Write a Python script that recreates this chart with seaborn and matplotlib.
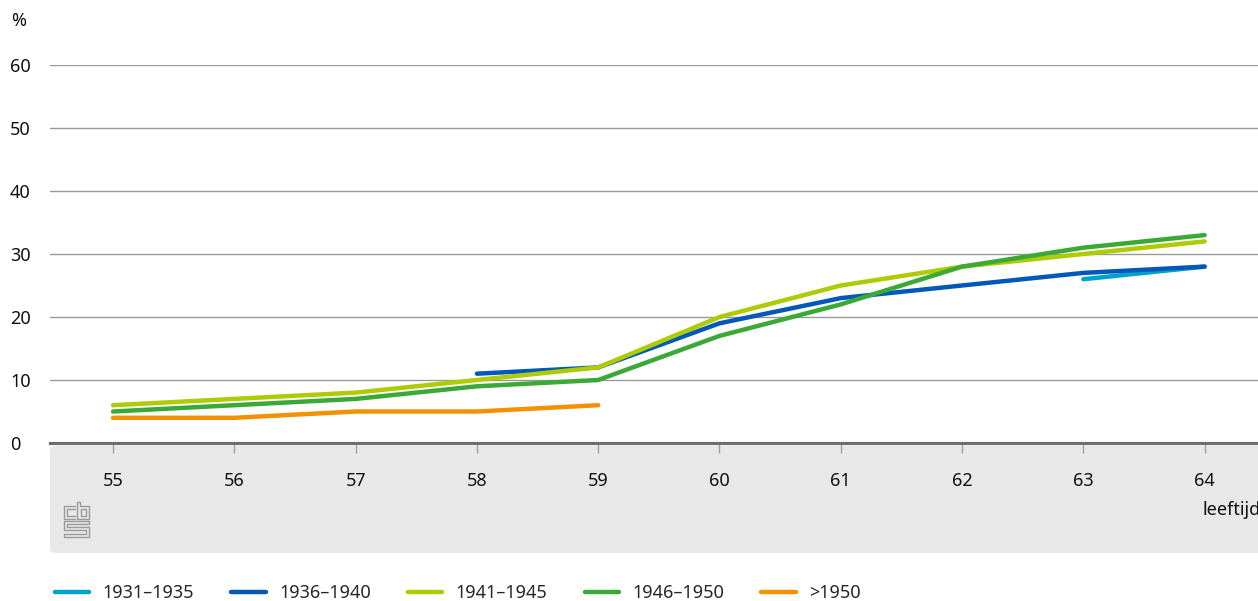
import numpy as np
import pandas as pd
import matplotlib.pyplot as plt
import seaborn as sns
from matplotlib.patches import FancyBboxPatch
from matplotlib.lines import Line2D

# data
ages = [55, 56, 57, 58, 59, 60, 61, 62, 63, 64]
cohorts = ['1931–1935', '1936–1940', '1941–1945', '1946–1950', '>1950']
c1931 = [None, None, None, None, None, None, None, None, 26, 28]
c1936 = [None, None, None, 11, 12, 19, 23, 25, 27, 28]
c1941 = [6, 7, 8, 10, 12, 20, 25, 28, 30, 32]
c1946 = [5, 6, 7, 9, 10, 17, 22, 28, 31, 33]
c1950 = [4, 4, 5, 5, 6, None, None, None, None, None]
colors = ['#00a1cd', '#0058b8', '#afcb05', '#3aa935', '#f39200']

rows = []
for name, vals in zip(cohorts, [c1931, c1936, c1941, c1946, c1950]):
    for a, v in zip(ages, vals):
        if v is not None:
            rows.append({'leeftijd': a, 'pct': v, 'cohort': name})
df = pd.DataFrame(rows)

sns.set_theme(style="white")
plt.rcParams['font.family'] = ['Noto Sans', 'DejaVu Sans']

W, H = 1258, 601
FS = 13
fig = plt.figure(figsize=(W / 100, H / 100), dpi=100)

def fx(x):
    return x / W

def fy(y):
    return 1 - y / H

# grey band below the axis
band = FancyBboxPatch((fx(50), fy(553)), fx(1258 + 20) - fx(50), fy(446) - fy(553),
                      boxstyle="round,pad=0,rounding_size=0.006",
                      transform=fig.transFigure, facecolor='#e8e8e8', edgecolor='none', zorder=-5)
fig.patches.append(band)

ax = fig.add_axes([fx(50), fy(443), fx(1258) - fx(50), fy(65) - fy(443)])
ax.set_facecolor('none')

sns.lineplot(data=df, x='leeftijd', y='pct', hue='cohort', hue_order=cohorts,
             palette=colors, linewidth=3.2, ax=ax, legend=False, estimator=None)

ax.set_xlim(54.48, 64.44)
ax.set_ylim(0, 60)
ax.set_xticks(ages)
ax.set_xticklabels([str(a) for a in ages])
ax.set_yticks([0, 10, 20, 30, 40, 50, 60])
ax.yaxis.grid(True, color='#9a9a9a', linewidth=1)
ax.set_axisbelow(True)
for s in ['top', 'right', 'left']:
    ax.spines[s].set_visible(False)
ax.spines['bottom'].set_color('#6e6e6e')
ax.spines['bottom'].set_linewidth(2.3)
ax.tick_params(axis='x', direction='out', length=7, width=1, color='#a0a0a0',
               pad=14, labelsize=FS, labelcolor='#111111', bottom=True)
ax.tick_params(axis='y', length=0, pad=28.8, labelsize=FS, labelcolor='#111111')
for t in ax.get_yticklabels():
    t.set_horizontalalignment('left')
ax.set_xlabel('')
ax.set_ylabel('')

fig.text(fx(11), fy(21), '%', fontsize=FS, color='#111111', va='center', ha='left')
fig.text(fx(1202), fy(510), 'leeftijd', fontsize=FS, color='#111111', va='center', ha='left')

# cbs logo (simplified)
logo = [
    [(75, 506), (64, 506), (64, 519), (75, 519)],
    [(75, 509), (67, 509), (67, 516), (75, 516)],
    [(77, 502), (77, 519), (89, 519), (89, 506), (80, 506), (80, 502), (77, 502)],
    [(81, 509), (86, 509), (86, 516), (81, 516), (81, 509)],
    [(89, 521), (64, 521), (64, 530), (86, 530), (86, 534), (64, 534), (64, 537), (89, 537),
     (89, 527), (67, 527), (67, 524), (89, 524), (89, 521)],
]
for pts in logo:
    xs = [fx(p[0]) for p in pts]
    ys = [fy(p[1]) for p in pts]
    fig.lines.append(Line2D(xs, ys, transform=fig.transFigure, color='#9a9a9a', linewidth=1))

handles = [Line2D([0], [0], color=c, linewidth=3.2) for c in colors]
fig.legend(handles, cohorts, loc='center left', bbox_to_anchor=(fx(55), fy(593)),
           ncol=5, frameon=False, fontsize=FS, handlelength=1.9, handletextpad=0.75,
           columnspacing=2.05, borderaxespad=0, borderpad=0)

fig.savefig('out.png', dpi=100)
